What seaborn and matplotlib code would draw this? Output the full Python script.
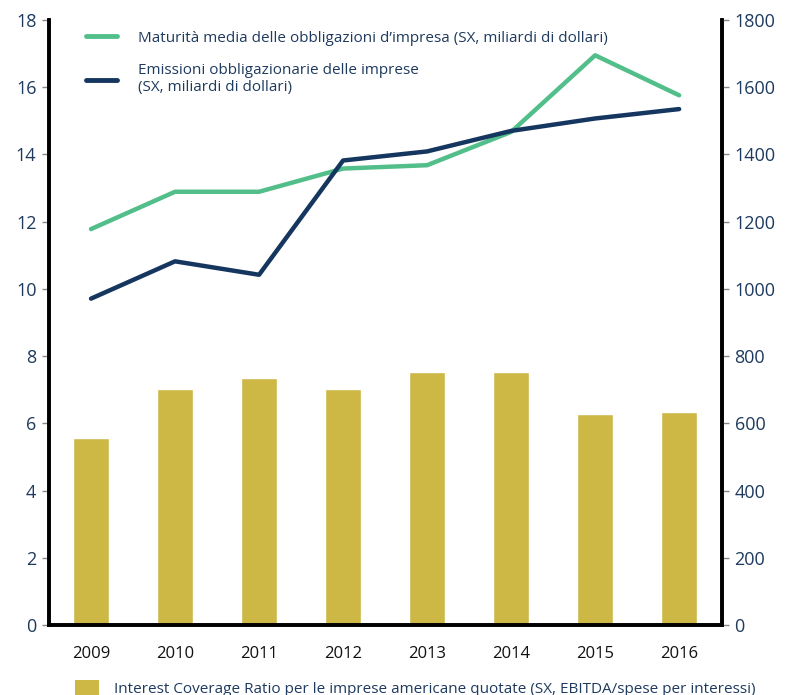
import matplotlib
matplotlib.use("Agg")
import matplotlib.pyplot as plt
import seaborn as sns
import pandas as pd
import numpy as np
from matplotlib.lines import Line2D
from matplotlib.patches import Patch

years = ["2009", "2010", "2011", "2012", "2013", "2014", "2015", "2016"]
coverage = [5.57, 7.02, 7.36, 7.02, 7.52, 7.52, 6.29, 6.34]
maturity = [11.78, 12.89, 12.89, 13.58, 13.68, 14.67, 16.95, 15.76]
emissions = [9.71, 10.82, 10.42, 13.82, 14.09, 14.70, 15.07, 15.35]

label_bar = "Interest Coverage Ratio per le imprese americane quotate (SX, EBITDA/spese per interessi)"
label_mat = "Maturità media delle obbligazioni d\u2019impresa (SX, miliardi di dollari)"
label_em = "Emissioni obbligazionarie delle imprese\n(SX, miliardi di dollari)"

GREEN = "#52BE8A"
NAVY = "#15365F"
GOLD = "#CDB846"
TXT = "#1E3A5F"

sns.set_theme(style="white")
plt.rcParams["font.family"] = ["Open Sans", "DejaVu Sans"]

fig = plt.figure(figsize=(7.91, 6.95), dpi=100)
ax = fig.add_axes([49 / 791, 1 - 625 / 695, (722 - 49) / 791, (625 - 20) / 695])

df = pd.DataFrame({"year": years, "coverage": coverage,
                   "maturity": maturity, "emissions": emissions})
df["x"] = np.arange(len(years))

sns.barplot(data=df, x="year", y="coverage", color=GOLD, width=0.43,
            saturation=1, ax=ax)
sns.lineplot(data=df, x="x", y="maturity", color=GREEN, lw=3.2, ax=ax)
sns.lineplot(data=df, x="x", y="emissions", color=NAVY, lw=3.2, ax=ax)

ax.set_xlim(-0.5, 7.51)
ax.set_ylim(0, 18)
ax.set_yticks(range(0, 19, 2))
ax.set_xlabel("")
ax.set_ylabel("")
ax.tick_params(axis="y", colors="#888888", labelcolor=TXT, labelsize=13,
               length=5, width=1, direction="out", left=True, pad=4)
ax.tick_params(axis="x", length=0, labelsize=12, labelcolor="#111111", pad=15)

ax2 = ax.twinx()
ax2.set_ylim(0, 1800)
ax2.set_yticks(range(0, 1801, 200))
ax2.tick_params(axis="y", colors="#888888", labelcolor=TXT, labelsize=13,
                length=5, width=1, direction="out", right=True, pad=4)

for a in (ax, ax2):
    for s in ("left", "right", "bottom"):
        a.spines[s].set_visible(True)
        a.spines[s].set_color("black")
        a.spines[s].set_linewidth(2.6)
    a.spines["top"].set_visible(False)

# top legend
h1 = Line2D([0], [0], color=GREEN, lw=3.5)
h2 = Line2D([0], [0], color=NAVY, lw=3.5)
leg = ax.legend([h1, h2], [label_mat, label_em], loc="upper left",
                bbox_to_anchor=(0.035, 1.005), frameon=False, fontsize=11,
                handlelength=2.0, handletextpad=1.4, labelspacing=1.15,
                labelcolor=TXT)

# bottom legend
h3 = Patch(facecolor=GOLD, edgecolor="none")
fig.legend([h3], [label_bar], loc="lower left", bbox_to_anchor=(0.078, -0.022),
           frameon=False, fontsize=11, handlelength=1.55, handleheight=1.15,
           handletextpad=1.0, labelcolor=TXT)

fig.savefig("out.png", dpi=100)
